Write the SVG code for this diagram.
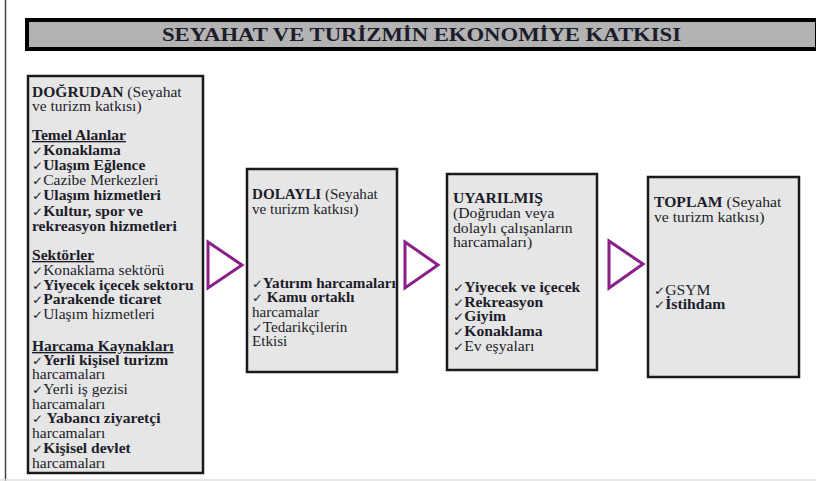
<svg xmlns="http://www.w3.org/2000/svg" width="816" height="481" viewBox="0 0 816 481">
<style>
.t{font-family:"Liberation Serif","Times New Roman",serif;font-size:14px;fill:#1c1c2a}
.b{font-weight:bold}
.u{text-decoration:underline}
.ck{font-family:"DejaVu Sans",sans-serif;font-size:12px;font-weight:normal}
.box{fill:#e6e6e6;stroke:#1a1a1a;stroke-width:2.5}
.arr{fill:none;stroke:#8a1f8a;stroke-width:3;stroke-linejoin:miter}
</style>
<rect x="0" y="0" width="816" height="481" fill="#ffffff"/>
<line x1="5.5" y1="0" x2="5.5" y2="481" stroke="#444" stroke-width="1.5"/>
<line x1="0" y1="480" x2="816" y2="480" stroke="#e0e0e0" stroke-width="1.5"/>

<g id="title">
<rect x="27" y="20" width="790" height="29" fill="#b3b3b3" stroke="#000" stroke-width="4"/>
<text class="t b" x="162" y="41" style="font-size:18px" textLength="519" lengthAdjust="spacingAndGlyphs">SEYAHAT VE TURİZMİN EKONOMİYE KATKISI</text>
</g>

<g id="connectors">
<polygon class="arr" points="208,242 242,265 208,288"/>
<polygon class="arr" points="405,242 438,265 405,288"/>
<polygon class="arr" points="609,241 643,264 609,288"/>
</g>

<g id="dogrudan">
<rect class="box" x="28" y="76" width="175" height="397"/>
<g transform="translate(32 0) scale(1.11 1)">
<text class="t" x="0" y="97"><tspan class="b">DOĞRUDAN</tspan> (Seyahat</text>
<text class="t" x="0" y="111">ve turizm katkısı)</text>
<text class="t b u" x="0" y="140">Temel Alanlar</text>
<text class="t b" x="0" y="155"><tspan class="ck">✓</tspan>Konaklama</text>
<text class="t b" x="0" y="170"><tspan class="ck">✓</tspan>Ulaşım Eğlence</text>
<text class="t" x="0" y="185"><tspan class="ck">✓</tspan>Cazibe Merkezleri</text>
<text class="t b" x="0" y="200"><tspan class="ck">✓</tspan>Ulaşım hizmetleri</text>
<text class="t b" x="0" y="216"><tspan class="ck">✓</tspan>Kultur, spor ve</text>
<text class="t b" x="0" y="231">rekreasyon hizmetleri</text>
<text class="t b u" x="0" y="260">Sektörler</text>
<text class="t" x="0" y="275"><tspan class="ck">✓</tspan>Konaklama sektörü</text>
<text class="t b" x="0" y="290"><tspan class="ck">✓</tspan>Yiyecek içecek sektoru</text>
<text class="t b" x="0" y="304"><tspan class="ck">✓</tspan>Parakende ticaret</text>
<text class="t" x="0" y="319"><tspan class="ck">✓</tspan>Ulaşım hizmetleri</text>
<text class="t b u" x="0" y="351">Harcama Kaynakları</text>
<text class="t b" x="0" y="365"><tspan class="ck">✓</tspan>Yerli kişisel turizm</text>
<text class="t" x="0" y="379">harcamaları</text>
<text class="t" x="0" y="394"><tspan class="ck">✓</tspan>Yerli iş gezisi</text>
<text class="t" x="0" y="409">harcamaları</text>
<text class="t b" x="0" y="423"><tspan class="ck">✓</tspan> Yabancı ziyaretçi</text>
<text class="t" x="0" y="438">harcamaları</text>
<text class="t b" x="0" y="453"><tspan class="ck">✓</tspan>Kişisel devlet</text>
<text class="t" x="0" y="468">harcamaları</text>
</g>
</g>

<g id="dolayli">
<rect class="box" x="247" y="169" width="150" height="203"/>
<g transform="translate(252 0) scale(1.08 1)">
<text class="t" x="0" y="199"><tspan class="b">DOLAYLI</tspan> (Seyahat</text>
<text class="t" x="0" y="214">ve turizm katkısı)</text>
<text class="t b" x="0" y="288"><tspan class="ck">✓</tspan>Yatırım harcamaları</text>
<text class="t b" x="0" y="302"><tspan class="ck">✓</tspan> Kamu ortaklı</text>
<text class="t" x="0" y="317">harcamalar</text>
<text class="t" x="0" y="332"><tspan class="ck">✓</tspan>Tedarikçilerin</text>
<text class="t" x="0" y="346">Etkisi</text>
</g>
</g>

<g id="uyarilmis">
<rect class="box" x="447" y="174" width="150" height="196"/>
<g transform="translate(453 0) scale(1.12 1)">
<text class="t b" x="0" y="203">UYARILMIŞ</text>
<text class="t" x="0" y="218">(Doğrudan veya</text>
<text class="t" x="0" y="233">dolaylı çalışanların</text>
<text class="t" x="0" y="247">harcamaları)</text>
<text class="t b" x="0" y="292"><tspan class="ck">✓</tspan>Yiyecek ve içecek</text>
<text class="t b" x="0" y="307"><tspan class="ck">✓</tspan>Rekreasyon</text>
<text class="t b" x="0" y="321"><tspan class="ck">✓</tspan>Giyim</text>
<text class="t b" x="0" y="336"><tspan class="ck">✓</tspan>Konaklama</text>
<text class="t" x="0" y="351"><tspan class="ck">✓</tspan>Ev eşyaları</text>
</g>
</g>

<g id="toplam">
<rect class="box" x="648" y="177" width="151" height="200"/>
<g transform="translate(654 0) scale(1.12 1)">
<text class="t" x="0" y="207"><tspan class="b">TOPLAM</tspan> (Seyahat</text>
<text class="t" x="0" y="222">ve turizm katkısı)</text>
<text class="t" x="0" y="295"><tspan class="ck">✓</tspan>GSYM</text>
<text class="t b" x="0" y="309"><tspan class="ck">✓</tspan>İstihdam</text>
</g>
</g>
</svg>
